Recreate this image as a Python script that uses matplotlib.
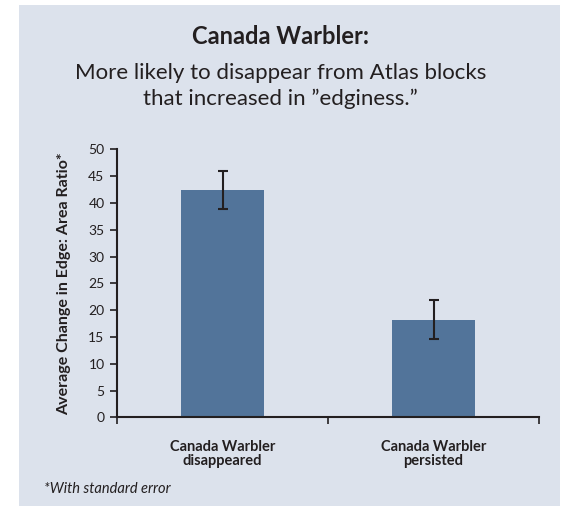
import matplotlib.pyplot as plt
from matplotlib.patches import Rectangle

categories = ['Canada Warbler\ndisappeared', 'Canada Warbler\npersisted']
means = [42.4, 18.2]
std_err = [3.6, 3.6]
y_ticks = [0, 5, 10, 15, 20, 25, 30, 35, 40, 45, 50]

bg = '#dce2ec'
bar_color = '#52749a'
ink = '#231f20'

plt.rcParams['font.family'] = ['Lato', 'DejaVu Sans']

fig = plt.figure(figsize=(5.61, 5.08), dpi=100)
fig.patch.set_facecolor('white')
# shaded panel behind the chart
fig.patches.append(Rectangle((19 / 561, 2 / 508), 541 / 561, 501 / 508,
                             transform=fig.transFigure, facecolor=bg,
                             edgecolor='none', zorder=0))

ax = fig.add_axes([117 / 561, 1 - 417.3 / 508, 422 / 561, 268 / 508])
ax.set_facecolor('none')
ax.set_zorder(2)

x = list(range(len(categories)))
ax.bar(x, means, width=0.39, color=bar_color, zorder=2)
ax.errorbar(x, means, yerr=std_err, fmt='none', ecolor=ink,
            elinewidth=1.5, capsize=3.5, capthick=1.5, zorder=3)

ax.set_xlim(-0.5, 1.5)
ax.set_ylim(0, 50)
ax.set_yticks(y_ticks)
ax.tick_params(axis='y', direction='out', length=5, width=1.2, color=ink,
               labelsize=10, labelcolor=ink, pad=4)

ax.set_xticks(x)
ax.set_xticklabels(categories, fontsize=10.5, fontweight='bold', color=ink,
                   linespacing=1.0)
ax.set_xticks([-0.5, 0.5, 1.5], minor=True)
ax.tick_params(axis='x', which='major', length=0, pad=16)
ax.tick_params(axis='x', which='minor', direction='out', length=5, width=1.2,
               color=ink)

for side in ['top', 'right']:
    ax.spines[side].set_visible(False)
for side in ['left', 'bottom']:
    ax.spines[side].set_color(ink)
    ax.spines[side].set_linewidth(1.5)

ax.set_ylabel('Average Change in Edge: Area Ratio*', fontsize=11.5,
              fontweight='bold', color=ink, labelpad=12)

fig.text(0.5, 1 - 37 / 508, 'Canada Warbler:', ha='center', va='center',
         fontsize=17, fontweight='bold', color=ink)
fig.text(0.5, 1 - 86 / 508,
         'More likely to disappear from Atlas blocks\nthat increased in \u201dedginess.\u201d',
         ha='center', va='center', fontsize=16, color=ink, linespacing=1.4)
fig.text(44 / 561, 1 - 489 / 508, '*With standard error', ha='left',
         va='center', fontsize=10.5, style='italic', color=ink)

fig.savefig('out.png', dpi=100)
